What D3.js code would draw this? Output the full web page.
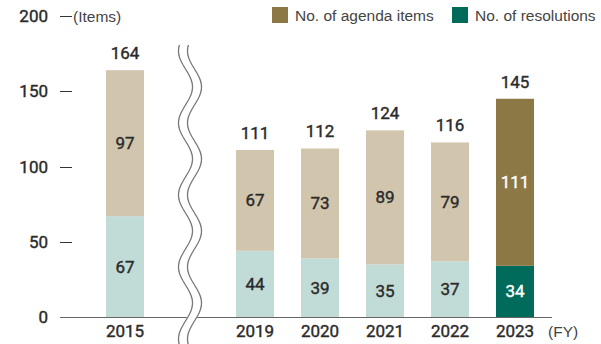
<html>
  <script src="https://d3js.org/d3.v7.min.js"></script>
  <style>
    body { margin: 0; background: white; }
    .num { font-family: Roboto, sans-serif; font-size: 17px; font-weight: 400; fill: #2b2b2b; stroke: #2b2b2b; stroke-width: 0.4px; }
    .lab { font-family: "Liberation Sans", Arial, sans-serif; font-size: 15.5px; fill: #444; }
  </style>
  <body>
    <svg width="601" height="344"></svg>
    <script>
      // chart values
      var years = ["2015", "2019", "2020", "2021", "2022", "2023"];
      var resolutions = [67, 44, 39, 35, 37, 34];
      var agenda = [97, 67, 73, 89, 79, 111];
      var totals = [164, 111, 112, 124, 116, 145];
      var yTicks = [0, 50, 100, 150, 200];
      var legendNames = ["No. of agenda items", "No. of resolutions"];

      var svg = d3.select("svg");

      var x = d3.scaleBand()
        .domain(["2015", "gap", "2019", "2020", "2021", "2022", "2023"])
        .range([92.5, 547.5])
        .paddingInner(0.415)
        .paddingOuter(0.2075);
      var y = d3.scaleLinear().domain([0, 200]).range([317, 16]);

      var light = { res: "#c1dbd7", agd: "#d1c5ad" };
      var dark = { res: "#006b5a", agd: "#8c7844" };

      var data = years.map(function (d, i) {
        return { year: d, res: resolutions[i], agd: agenda[i], total: totals[i], last: i == years.length - 1 };
      });

      // bars
      var g = svg.append("g");
      g.selectAll(".res").data(data).enter().append("rect")
        .attr("x", function (d) { return x(d.year); })
        .attr("width", x.bandwidth())
        .attr("y", function (d) { return y(d.res); })
        .attr("height", function (d) { return y(0) - y(d.res); })
        .attr("fill", function (d) { return d.last ? dark.res : light.res; });
      g.selectAll(".agd").data(data).enter().append("rect")
        .attr("x", function (d) { return x(d.year); })
        .attr("width", x.bandwidth())
        .attr("y", function (d) { return y(d.res + d.agd); })
        .attr("height", function (d) { return y(d.res) - y(d.res + d.agd); })
        .attr("fill", function (d) { return d.last ? dark.agd : light.agd; });

      // segment labels
      function inkColor(d) { return d.last ? "#fff" : "#2b2b2b"; }
      g.selectAll(".rl").data(data).enter().append("text")
        .attr("class", "num")
        .attr("x", function (d) { return x(d.year) + x.bandwidth() / 2; })
        .attr("y", function (d) { return (y(0) + y(d.res)) / 2; })
        .attr("text-anchor", "middle").attr("dominant-baseline", "central")
        .style("fill", inkColor).style("stroke", inkColor)
        .text(function (d) { return d.res; });
      g.selectAll(".al").data(data).enter().append("text")
        .attr("class", "num")
        .attr("x", function (d) { return x(d.year) + x.bandwidth() / 2; })
        .attr("y", function (d) { return (y(d.res) + y(d.res + d.agd)) / 2; })
        .attr("text-anchor", "middle").attr("dominant-baseline", "central")
        .style("fill", inkColor).style("stroke", inkColor)
        .text(function (d) { return d.agd; });
      g.selectAll(".tl").data(data).enter().append("text")
        .attr("class", "num")
        .attr("x", function (d) { return x(d.year) + x.bandwidth() / 2; })
        .attr("y", function (d) { return y(d.total) - 11; })
        .attr("text-anchor", "middle")
        .text(function (d) { return d.total; });

      // baseline
      svg.append("line")
        .attr("x1", 60).attr("x2", 552)
        .attr("y1", y(0) + 0.5).attr("y2", y(0) + 0.5)
        .attr("stroke", "#666").attr("stroke-width", 1.2);

      // y ticks
      var ya = svg.append("g");
      ya.selectAll("line").data(yTicks.slice(1)).enter().append("line")
        .attr("x1", 60).attr("x2", 72)
        .attr("y1", function (d) { return Math.round(y(d)) + 0.5; })
        .attr("y2", function (d) { return Math.round(y(d)) + 0.5; })
        .attr("stroke", "#333").attr("stroke-width", 1);
      ya.selectAll("text").data(yTicks).enter().append("text")
        .attr("class", "num")
        .attr("x", 48)
        .attr("y", function (d) { return y(d); })
        .attr("text-anchor", "end").attr("dominant-baseline", "central")
        .text(function (d) { return d; });
      svg.append("text").attr("class", "lab")
        .attr("x", 73).attr("y", y(200))
        .attr("dominant-baseline", "central")
        .text("(Items)");

      // x labels
      svg.selectAll(".xl").data(years).enter().append("text")
        .attr("class", "num")
        .attr("x", function (d) { return x(d) + x.bandwidth() / 2; })
        .attr("y", 337)
        .attr("text-anchor", "middle")
        .text(function (d) { return d; });
      svg.append("text").attr("class", "lab")
        .attr("x", 548).attr("y", 337)
        .text("(FY)");

      // axis break (double wave)
      var bx = x("gap") + x.bandwidth() / 2;
      function wave(off) {
        var pts = [];
        for (var yy = 45; yy <= 346; yy += 2) {
          pts.push([bx + off + 7 * Math.sin((yy - 69) / 72 * 2 * Math.PI), yy]);
        }
        return d3.line()(pts);
      }
      svg.append("path").attr("d", wave(0)).attr("fill", "none")
        .attr("stroke", "#fff").attr("stroke-width", 9);
      svg.append("path").attr("d", wave(-4.5)).attr("fill", "none")
        .attr("stroke", "#777").attr("stroke-width", 1.3);
      svg.append("path").attr("d", wave(4.5)).attr("fill", "none")
        .attr("stroke", "#777").attr("stroke-width", 1.3);

      // legend
      var lg = svg.append("g");
      var lx = [272, 452];
      var lc = [dark.agd, dark.res];
      legendNames.forEach(function (n, i) {
        lg.append("rect").attr("x", lx[i]).attr("y", 7)
          .attr("width", 16).attr("height", 16).attr("fill", lc[i]);
        lg.append("text").attr("class", "lab")
          .attr("x", lx[i] + 23).attr("y", 15)
          .attr("dominant-baseline", "central")
          .text(n);
      });
    </script>
  </body>
</html>
